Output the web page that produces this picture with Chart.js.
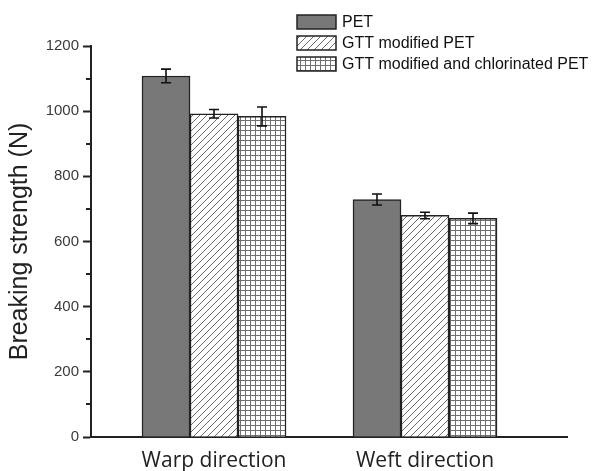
<!DOCTYPE html>
<html><head><meta charset="utf-8">
<script src="https://cdn.jsdelivr.net/npm/chart.js@4"></script>
<style>html,body{margin:0;padding:0;background:#fff}#wrap{width:592px;height:471px}</style>
</head><body><div id="wrap"><canvas id="c" width="592" height="471"></canvas></div>
<script>
const categories = ['Warp direction', 'Weft direction'];
const seriesNames = ['PET', 'GTT modified PET', 'GTT modified and chlorinated PET'];
const petValues = [1108, 729];
const gttValues = [992, 680];
const chlorValues = [984, 671];
const petErrors = [21, 17];
const gttErrors = [13, 10];
const chlorErrors = [29, 16];
const yTicks = [0, 200, 400, 600, 800, 1000, 1200];
const yMinorTicks = [100, 300, 500, 700, 900, 1100];

const canvas = document.getElementById('c');
const ctx = canvas.getContext('2d');

function hatchPattern() {
  const s = 7;
  const c = document.createElement('canvas'); c.width = s; c.height = s;
  const g = c.getContext('2d');
  g.fillStyle = '#fff'; g.fillRect(0, 0, s, s);
  g.strokeStyle = '#6a6a6a'; g.lineWidth = 1;
  g.beginPath();
  g.moveTo(0, s); g.lineTo(s, 0);
  g.moveTo(-1, 1); g.lineTo(1, -1);
  g.moveTo(s - 1, s + 1); g.lineTo(s + 1, s - 1);
  g.stroke();
  return ctx.createPattern(c, 'repeat');
}
function gridPattern() {
  const s = 5;
  const c = document.createElement('canvas'); c.width = s; c.height = s;
  const g = c.getContext('2d');
  g.fillStyle = '#fff'; g.fillRect(0, 0, s, s);
  g.fillStyle = '#707070';
  g.fillRect(0, 0, s, 1); g.fillRect(0, 0, 1, s);
  return ctx.createPattern(c, 'repeat');
}

const toPoints = vals => vals.map((v, i) => ({ x: i, y: v }));
const errors = [petErrors, gttErrors, chlorErrors];

const extras = {
  id: 'extras',
  afterDatasetsDraw(chart) {
    const c = chart.ctx, y = chart.scales.y;
    c.save();
    c.strokeStyle = '#111'; c.lineWidth = 1.6;
    chart.data.datasets.forEach((ds, di) => {
      const meta = chart.getDatasetMeta(di);
      meta.data.forEach((bar, i) => {
        const v = ds.data[i].y, e = errors[di][i];
        const yt = y.getPixelForValue(v + e), yb = y.getPixelForValue(v - e);
        c.beginPath();
        c.moveTo(bar.x, yt); c.lineTo(bar.x, yb);
        c.moveTo(bar.x - 5, yt); c.lineTo(bar.x + 5, yt);
        c.moveTo(bar.x - 5, yb); c.lineTo(bar.x + 5, yb);
        c.stroke();
      });
    });
    c.strokeStyle = '#222'; c.lineWidth = 2;
    const left = chart.chartArea.left;
    yMinorTicks.forEach(v => {
      const p = Math.round(y.getPixelForValue(v));
      c.beginPath(); c.moveTo(left - 5, p); c.lineTo(left, p); c.stroke();
    });
    c.restore();
  },
  afterDraw(chart) {
    const c = chart.ctx;
    c.save();
    chart.data.datasets.forEach((ds, i) => {
      const bx = 297, by = 15 + i * 21, bw = 39, bh = 14;
      c.fillStyle = ds.backgroundColor;
      c.fillRect(bx, by, bw, bh);
      c.strokeStyle = '#222'; c.lineWidth = 1.5;
      c.strokeRect(bx, by, bw, bh);
      c.fillStyle = '#111';
      c.font = '16px Arial, "Liberation Sans"';
      c.textBaseline = 'middle'; c.textAlign = 'left';
      c.fillText(ds.label, 342, by + bh / 2 + 1);
    });
    c.restore();
  }
};

new Chart(canvas, {
  type: 'bar',
  data: {
    datasets: [
      { label: seriesNames[0], data: toPoints(petValues), backgroundColor: '#787878' },
      { label: seriesNames[1], data: toPoints(gttValues), backgroundColor: hatchPattern() },
      { label: seriesNames[2], data: toPoints(chlorValues), backgroundColor: gridPattern() }
    ]
  },
  options: {
    responsive: false,
    animation: false,
    layout: { padding: { left: 0, top: 46, right: 25, bottom: 0 } },
    datasets: { bar: { barThickness: 48, borderColor: '#222', borderWidth: 1.5 } },
    plugins: { legend: { display: false }, tooltip: { enabled: false } },
    scales: {
      x: {
        type: 'linear', min: -0.583, max: 1.673, offset: false,
        afterBuildTicks: s => { s.ticks = categories.map((_, i) => ({ value: i })); },
        afterFit: s => { s.height = 34; },
        ticks: {
          callback: v => categories[v] ?? '',
          font: { family: '"Open Sans"', size: 21 }, color: '#222', padding: 11, maxRotation: 0
        },
        grid: { drawOnChartArea: false, drawTicks: false, offset: false },
        border: { color: '#222', width: 2 }
      },
      y: {
        min: 0, max: 1200,
        afterBuildTicks: s => { s.ticks = yTicks.map(v => ({ value: v })); },
        afterFit: s => { s.width = 91; },
        ticks: { callback: v => String(v), font: { family: 'Arial, "Liberation Sans"', size: 15 }, color: '#3a3a3a', padding: 4 },
        grid: { drawOnChartArea: false, tickLength: 8, tickColor: '#222', tickWidth: 2 },
        border: { color: '#222', width: 2 },
        title: { display: true, text: 'Breaking strength (N)', font: { family: 'Arial, "Liberation Sans"', size: 25 }, color: '#222', padding: { top: 5, bottom: 0 } }
      }
    }
  },
  plugins: [extras]
});
</script></body></html>
